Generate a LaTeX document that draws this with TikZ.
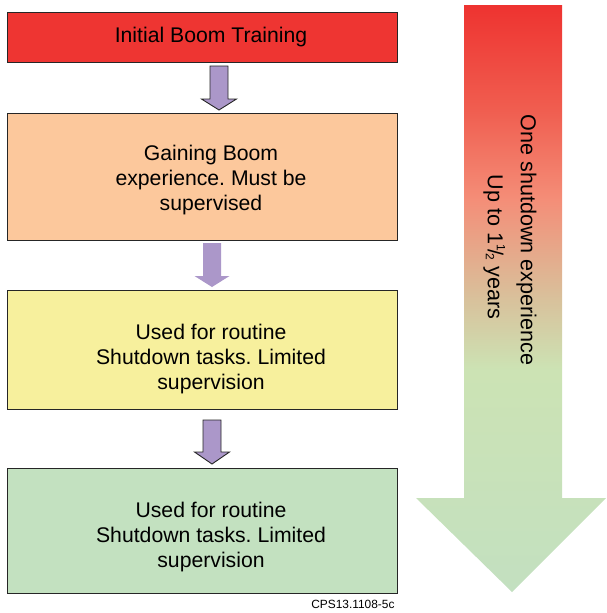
\documentclass[tikz,border=0pt]{standalone}
\usepackage{fontspec}
\setmainfont{Liberation Sans}
\usetikzlibrary{calc}
\definecolor{cred}{HTML}{EE3532}
\definecolor{corange}{HTML}{FCC89C}
\definecolor{cyellow}{HTML}{F7F09D}
\definecolor{cgreen}{HTML}{C3E1C0}
\definecolor{cpurple}{HTML}{AB97C9}
\definecolor{gA}{HTML}{EE3330}
\definecolor{gB}{HTML}{F05E50}
\definecolor{gC}{HTML}{F48E78}
\definecolor{gD}{HTML}{D8C29C}
\definecolor{gE}{HTML}{CCE3B4}
\definecolor{gF}{HTML}{C3E0C0}
\pgfdeclareverticalshading{bigshade}{100bp}{color(0bp)=(gF); color(25bp)=(gF); color(43.9bp)=(gE); color(49.8bp)=(gD); color(58.4bp)=(gC); color(66bp)=(gB); color(75bp)=(gA); color(100bp)=(gA)}
\tikzset{
  stepbox/.style={draw=black!85, line width=0.9pt, minimum width=390pt, inner sep=0pt},
  boxtext/.style={align=center, inner sep=0pt, font=\fontsize{21.2}{25}\selectfont},
  blk/.style={fill=cpurple, draw=black!85, line width=0.9pt, line join=miter},
  blknoline/.style={fill=cpurple}
}
\newcommand{\blkarrow}[5]{%
  \path[#1] ({#2-9},#3) -- ({#2+9},#3) -- ({#2+9},#4) -- ({#2+17.5},#4) -- (#2,#5) -- ({#2-17.5},#4) -- ({#2-9},#4) -- cycle;}
\begin{document}
\frenchspacing
\begin{tikzpicture}[x=1pt,y=-1pt]
\useasboundingbox (0,0) rectangle (606,613);
% boxes
\node[stepbox, fill=cred, minimum height=50pt] (b1) at (202,37) {};
\node[stepbox, fill=corange, minimum height=127pt] (b2) at (202,176.5) {};
\node[stepbox, fill=cyellow, minimum height=119pt] (b3) at (202,350) {};
\node[stepbox, fill=cgreen, minimum height=125pt] (b4) at (202,530.5) {};
\node[boxtext] (t1) at (211,37) {Initial Boom Training};
\node[boxtext] (t2) at (211,180.5) {Gaining Boom\\experience. Must be\\supervised};
\node[boxtext] (t3) at (211,359.5) {Used for routine\\Shutdown tasks. Limited\\supervision};
\node[boxtext] (t4) at (211,537) {Used for routine\\Shutdown tasks. Limited\\supervision};
% arrows between boxes
\blkarrow{blk}{219}{66}{99}{110}
\blkarrow{blknoline}{212}{243}{276}{287}
\blkarrow{blk}{212}{420}{452}{464}
% big gradient arrow
\path[shading=bigshade] (464,5) -- (562,5) -- (562,498) -- (606,498) -- (512,592) -- (416,498) -- (464,498) -- cycle;
\node[rotate=-90, align=center, font=\fontsize{21.6}{33}\selectfont] (side) at (510,240) {One shutdown experience\\\hspace*{14pt}Up to 1\raisebox{0.42em}{\fontsize{12}{12}\selectfont 1}\kern-0.08em/\kern-0.08em\raisebox{-0.1em}{\fontsize{12}{12}\selectfont 2} years};
\node[anchor=east, font=\fontsize{11.9}{14}\selectfont] (ref) at (398,604) {CPS13.1108-5c};
\end{tikzpicture}
\end{document}
